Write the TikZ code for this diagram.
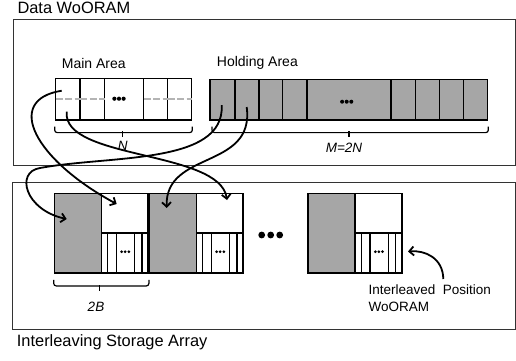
\documentclass[tikz,border=0pt]{standalone}
\usepackage{fontspec}
\setmainfont{Liberation Sans}
\usepackage{tikz}
\usetikzlibrary{arrows.meta}
\definecolor{cellgray}{HTML}{A6A6A6}
\definecolor{dashgray}{HTML}{B4B4B4}
\definecolor{framegray}{HTML}{333333}
\tikzstyle{frame}=[draw=framegray,line width=1pt]
\tikzstyle{cell}=[draw,line width=1.6pt,inner sep=0pt,anchor=north west]
\tikzstyle{wcell}=[cell,fill=white]
\tikzstyle{gcell}=[cell,fill=cellgray]
\tikzstyle{stripe}=[line width=1.3pt]
\tikzstyle{dsh}=[dashgray,line width=1.3pt,dash pattern=on 7pt off 2.5pt]
\tikzstyle{arr}=[-{Straight Barb[length=4.5pt,width=9pt]},line width=1.8pt]
\tikzstyle{brc}=[line width=1.2pt,rounded corners=2.5pt]
\tikzstyle{ttl}=[font=\fontsize{16.4}{19}\selectfont,inner sep=0pt]
\tikzstyle{area}=[font=\fontsize{14}{17}\selectfont,inner sep=0pt]
\tikzstyle{cnt}=[font=\fontsize{13.5}{16}\selectfont\itshape,inner sep=0pt]
\newcommand{\dotrow}[4]{\foreach \k in {-1,0,1} \fill (#1,#2) ++(\k*#4,0) circle (#3);}

\begin{document}
\begin{tikzpicture}[x=1pt,y=-1pt]
  \useasboundingbox (0,0) rectangle (516,360);
  \draw[frame] (13.3,19.3) rectangle (515.5,165.7);
  \draw[frame] (12.3,182.7) rectangle (515.5,329.3);
  \node[ttl,anchor=base west] (tdata) at (17.3,13.3) {Data WoORAM};
  \node[ttl,anchor=base west] (tarray) at (16.7,346.7) {Interleaving Storage Array};
  \node[area,anchor=base west] (tmain) at (61.7,68.3) {Main Area};
  \node[area,anchor=base west] (thold) at (216.7,66.7) {Holding Area};
  \foreach \a/\b [count=\i] in {54.7/79.3,79.3/103.7,103.7/142.7,142.7/166.7,166.7/190.7}
    \node[wcell,minimum width={(\b-\a)*1pt},minimum height=41.5pt] (m\i) at (\a,77.5) {};
  \foreach \i in {1,2,4,5} \draw[dsh,shorten <=0.8pt,shorten >=0.8pt] (m\i.west) -- (m\i.east);
  \dotrow{119}{98.7}{2.1pt}{4.6pt}
  \foreach \a/\b [count=\i] in {209.3/234,234/258,258/281.7,281.7/306,306/390.3,390.3/414.7,414.7/438.7,438.7/462.7,462.7/486.7}
    \node[gcell,minimum width={(\b-\a)*1pt},minimum height=40.5pt] (h\i) at (\a,78.5) {};
  \dotrow{346.7}{101.7}{2pt}{4.6pt}
  \draw[brc] ([yshift=-6pt]m1.south west) -- ++(0,6) -| ([yshift=-6pt]m5.south east);
  \draw[brc] (122.7,131) -- (122.7,136.5);
  \node[cnt,anchor=base] (lN) at (122.7,150) {N};
  \draw[brc] ([xshift=2.7pt,yshift=-6pt]h1.south west) -- ++(0,6) -| ([yshift=-6pt]h9.south east);
  \draw[brc] (349,131) -- (349,136.5);
  \node[cnt,anchor=base] (lM) at (344,152.7) {M=2N};
  \foreach \x/\g in {53.7/1,148.7/2,307.4/3} {
    \node[gcell,minimum width=46.8pt,minimum height=79.6pt] (g\g) at (\x,192.7) {};
    \node[wcell,minimum width=46.8pt,minimum height=39.3pt] (t\g) at (\x+46.8,192.7) {};
    \node[wcell,minimum width=46.8pt,minimum height=40.3pt] (b\g) at (\x+46.8,232) {};
    \foreach \s in {7.3,15.7,34.1,41.4} \draw[stripe] (\x+46.8+\s,232) -- (\x+46.8+\s,272.3);
    \dotrow{\x+71.5}{251.7}{1.5pt}{3.6pt}
  }
  \dotrow{270.7}{235}{3.4pt}{9pt}
  \draw[brc] ([yshift=-6pt]g1.south west) -- ++(0,6) -| ([yshift=-6pt]b1.south east);
  \draw[brc] (99.3,285) -- (99.3,291);
  \node[cnt,anchor=base] (lB) at (96,311) {2B};
  \node[area,anchor=north west,align=left,font=\fontsize{13.5}{16.6}\selectfont] (tipos) at (368.3,285) {Interleaved\ \ Position\\WoORAM};
  \coordinate (s1) at (61.7,90.7);
  \coordinate (e1) at (116.7,204);
  \coordinate (s2) at (66.7,111.7);
  \coordinate (e2) at (227,200);
  \coordinate (s3) at (221.7,105);
  \coordinate (e3) at (66.7,219);
  \coordinate (s4) at (246.7,107);
  \coordinate (e4) at (166.7,208);
  \coordinate (s5) at (443.3,279);
  \coordinate (e5) at (408,251.5);
  \draw[arr] (s1) .. controls (3,100) and (35,160) .. (e1);
  \draw[arr] (s2) .. controls (62,160) and (220,150) .. (e2);
  \draw[arr] (s3) .. controls (225,165) and (110,155) .. (40,168) .. controls (15,172) and (25,210) .. (e3);
  \draw[arr] (s4) .. controls (255,170) and (165,150) .. (e4);
  \draw[arr] (s5) .. controls (443,258) and (425,250) .. (e5);
\end{tikzpicture}
\end{document}
